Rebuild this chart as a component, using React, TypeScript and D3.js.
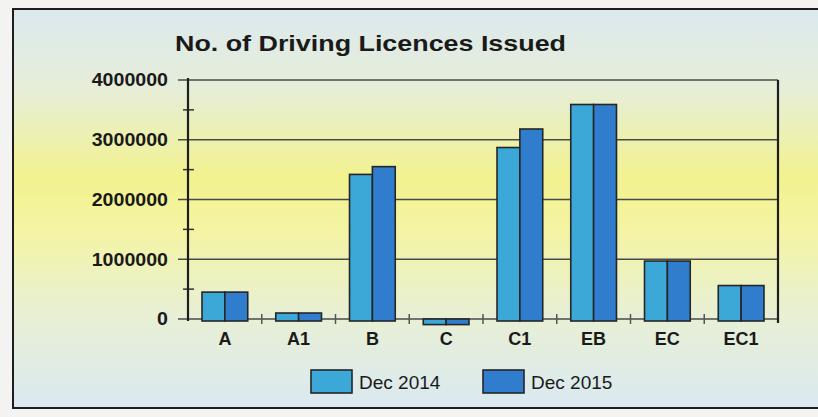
import React from "react";
import * as d3 from "d3";

const categories = ["A", "A1", "B", "C", "C1", "EB", "EC", "EC1"];
const seriesNames = ["Dec 2014", "Dec 2015"];
const dec2014 = [450000, 100000, 2420000, -60000, 2870000, 3590000, 970000, 560000];
const dec2015 = [450000, 100000, 2550000, -60000, 3180000, 3590000, 970000, 560000];
const yTicks = [0, 1000000, 2000000, 3000000, 4000000];
const minorTicks = [500000, 1500000, 2500000, 3500000];
const colors = ["#3ba8d8", "#2f7dcc"];

const W = 818;
const H = 417;
const left = 188;
const right = 778;
const top = 80;
const bottom = 319;

export default function App() {
  const x = d3.scaleBand<string>().domain(categories).range([left, right]).paddingInner(0.38).paddingOuter(0.19);
  const inner = d3.scaleBand<string>().domain(seriesNames).range([0, x.bandwidth()]);
  const y = d3.scaleLinear().domain([0, 4000000]).range([bottom, top]);
  const values = [dec2014, dec2015];
  const step = x.step();

  return (
    <svg width={W} height={H} style={{ position: "absolute", left: 0, top: 0, display: "block" }}>
      <defs>
        <linearGradient id="bg" x1="0" y1="0" x2="0" y2="1">
          <stop offset="0" stopColor="#dce9ee" />
          <stop offset="0.2" stopColor="#e6eed8" />
          <stop offset="0.42" stopColor="#f2f290" />
          <stop offset="0.55" stopColor="#f4f4a2" />
          <stop offset="0.75" stopColor="#e9f0d2" />
          <stop offset="1" stopColor="#dae9f1" />
        </linearGradient>
      </defs>
      <rect x={0} y={0} width={W} height={H} fill="#f3f4f2" />
      <rect x={13} y={9} width={W} height={399} fill="url(#bg)" stroke="#1e1e1e" strokeWidth={2} />

      <text x={175} y={51} fontFamily="Liberation Sans, Arial, sans-serif" fontWeight="bold" fontSize={22}
        textLength={391} lengthAdjust="spacingAndGlyphs" fill="#1a1a1a">
        No. of Driving Licences Issued
      </text>

      {/* gridlines */}
      {yTicks.map((t) => (
        <line key={"g" + t} x1={left - 10} x2={right} y1={y(t)} y2={y(t)} stroke="#4a4a4a" strokeWidth={1.3} />
      ))}
      {minorTicks.map((t) => (
        <line key={"m" + t} x1={left - 5} x2={left + 6} y1={y(t)} y2={y(t)} stroke="#333" strokeWidth={1.5} />
      ))}
      {yTicks.map((t) => (
        <text key={"l" + t} x={168} y={y(t)} dy="0.36em" textAnchor="end"
          fontFamily="Liberation Sans, Arial, sans-serif" fontWeight="bold" fontSize={18}
          textLength={String(t).length * 10.9} lengthAdjust="spacingAndGlyphs" fill="#1a1a1a">
          {t}
        </text>
      ))}

      {/* axes */}
      <line x1={left} x2={left} y1={top - 2} y2={bottom + 2} stroke="#1e1e1e" strokeWidth={2.2} />
      <line x1={right} x2={right} y1={top} y2={bottom + 4} stroke="#1e1e1e" strokeWidth={2.2} />

      {/* bars */}
      {categories.map((c, i) => (
        <g key={c} transform={`translate(${x(c)},0)`}>
          {seriesNames.map((s, j) => {
            const v = values[j][i];
            const y0 = y(0);
            const y1 = y(v);
            const yt = Math.min(y0, y1);
            const h = Math.abs(y1 - y0) + 2;
            return (
              <rect key={s} x={inner(s)} y={yt} width={inner.bandwidth()} height={h}
                fill={colors[j]} stroke="#262626" strokeWidth={1.6} />
            );
          })}
        </g>
      ))}

      {/* x tick marks between categories */}
      {categories.slice(1).map((c) => (
        <line key={"t" + c} x1={(x(c) as number) - (step - x.bandwidth()) / 2} x2={(x(c) as number) - (step - x.bandwidth()) / 2}
          y1={y(0) - 5} y2={y(0) + 5} stroke="#555" strokeWidth={1.5} />
      ))}

      {categories.map((c) => (
        <text key={"c" + c} x={(x(c) as number) + x.bandwidth() / 2} y={345} textAnchor="middle"
          fontFamily="Liberation Sans, Arial, sans-serif" fontWeight="bold" fontSize={18} fill="#1a1a1a">
          {c}
        </text>
      ))}

      {/* legend */}
      {seriesNames.map((s, j) => {
        const lx = j === 0 ? 311 : 483;
        return (
          <g key={"lg" + s}>
            <rect x={lx} y={370} width={41} height={23} fill={colors[j]} stroke="#262626" strokeWidth={1.6} />
            <text x={lx + 48} y={389} fontFamily="Liberation Sans, Arial, sans-serif" fontSize={19} fill="#1a1a1a">
              {s}
            </text>
          </g>
        );
      })}
    </svg>
  );
}
